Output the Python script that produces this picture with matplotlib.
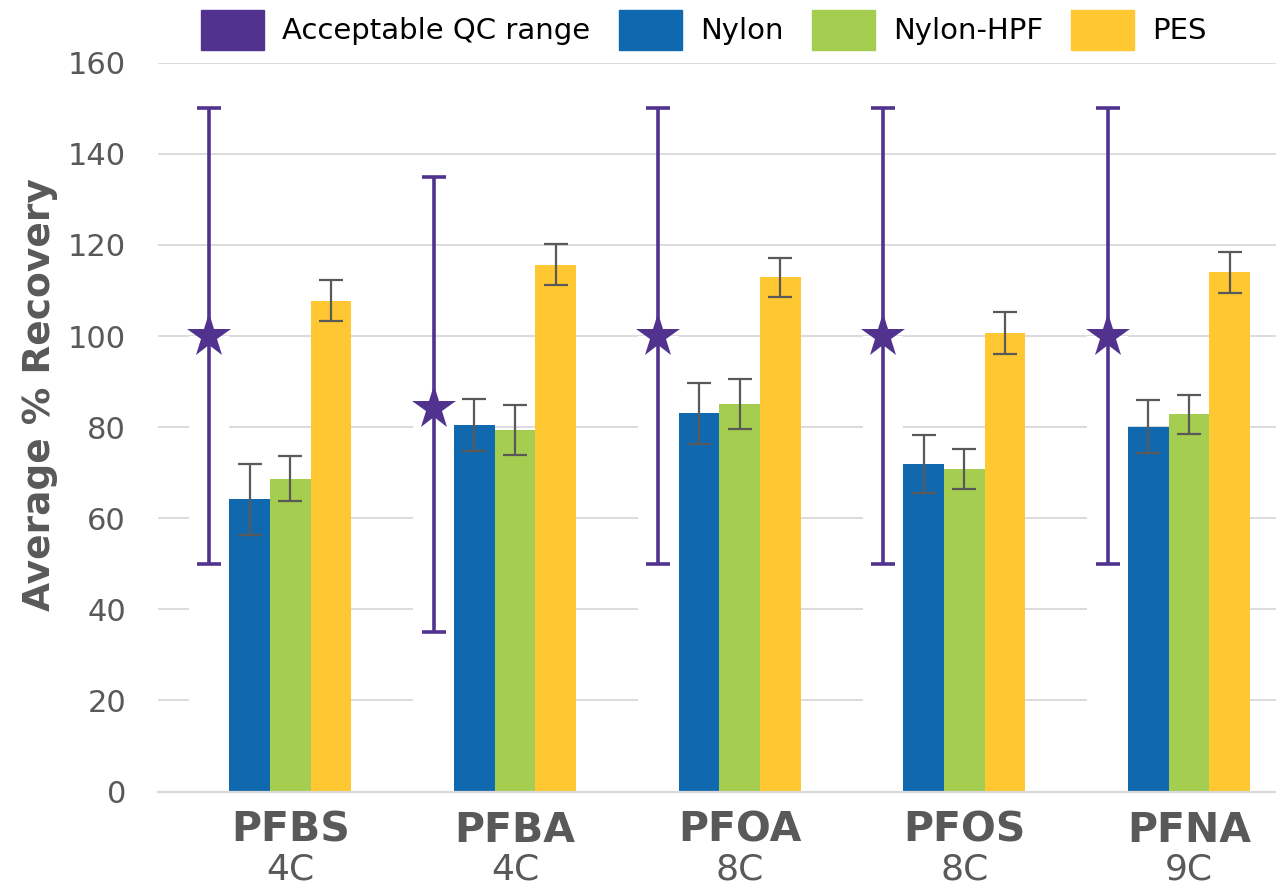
import matplotlib
matplotlib.use("Agg")
import matplotlib.pyplot as plt
import matplotlib.patches as mpatches
import numpy as np

categories = ['PFBS', 'PFBA', 'PFOA', 'PFOS', 'PFNA']
carbons = ['4C', '4C', '8C', '8C', '9C']
qc_center = [100, 84.3, 100, 100, 100]
qc_low = [50, 35, 50, 50, 50]
qc_high = [150, 135, 150, 150, 150]
nylon = [64.2, 80.5, 83.0, 71.9, 80.1]
nylon_err = [7.8, 5.7, 6.7, 6.3, 5.8]
hpf = [68.7, 79.3, 85.0, 70.8, 82.8]
hpf_err = [5.0, 5.5, 5.5, 4.4, 4.3]
pes = [107.7, 115.6, 112.9, 100.6, 114.0]
pes_err = [4.5, 4.5, 4.3, 4.6, 4.5]
series_labels = ['Acceptable QC range', 'Nylon', 'Nylon-HPF', 'PES']
yticks = [0, 20, 40, 60, 80, 100, 120, 140, 160]

PURPLE = '#51338F'
BLUE = '#1069AE'
GREEN = '#A5CD50'
YELLOW = '#FFC832'
GRAY = '#595959'
GRID = '#D9D9D9'

plt.rcParams['font.family'] = ['DejaVu Sans']

W, H = 1276, 885
fig = plt.figure(figsize=(W / 100, H / 100), dpi=100)
ax = fig.add_axes([158 / W, 1 - 791.5 / H, 1 - 158 / W, (791.5 - 62.7) / H])

x = np.arange(len(categories))
w = 0.181

# white mask bar behind QC marker (hides gridlines below the target value)
ax.bar(x - 2 * w, qc_center, w, color='white', zorder=1.5)
ax.bar(x - w, nylon, w, color=BLUE, zorder=2)
ax.bar(x, hpf, w, color=GREEN, zorder=2)
ax.bar(x + w, pes, w, color=YELLOW, zorder=2)

ekw = dict(fmt='none', ecolor=GRAY, elinewidth=1.6, capsize=8.5, capthick=1.6, zorder=3)
ax.errorbar(x - w, nylon, yerr=nylon_err, **ekw)
ax.errorbar(x, hpf, yerr=hpf_err, **ekw)
ax.errorbar(x + w, pes, yerr=pes_err, **ekw)

qc_c = np.array(qc_center)
yerr_qc = [qc_c - np.array(qc_low), np.array(qc_high) - qc_c]
ax.errorbar(x - 2 * w, qc_c, yerr=yerr_qc, fmt='none', ecolor=PURPLE,
            elinewidth=2.6, capsize=8.5, capthick=2.6, zorder=3)
ax.plot(x - 2 * w, qc_c, linestyle='none', marker='*', markersize=33,
        color=PURPLE, markeredgewidth=0, zorder=4)

ax.set_ylim(0, 160)
ax.set_xlim((158 - 290.3) / 224.7, (1276 - 290.3) / 224.7)
ax.set_yticks(yticks)
ax.set_yticklabels([str(t) for t in yticks])
ax.tick_params(axis='y', length=0, labelsize=22, labelcolor=GRAY, pad=23)
ax.set_xticks([])
ax.yaxis.grid(True, color=GRID, linewidth=1.3)
ax.set_axisbelow(True)
for s in ['top', 'right', 'left']:
    ax.spines[s].set_visible(False)
ax.spines['bottom'].set_color(GRID)
ax.spines['bottom'].set_linewidth(1.6)

for i, (c, cc) in enumerate(zip(categories, carbons)):
    ax.annotate(c, xy=(x[i], 0), xycoords=('data', 'axes fraction'),
                xytext=(0, -50), textcoords='offset pixels', ha='center',
                va='baseline', fontsize=29.5, fontweight='bold', color=GRAY,
                annotation_clip=False)
    ax.annotate(cc, xy=(x[i], 0), xycoords=('data', 'axes fraction'),
                xytext=(0, -88), textcoords='offset pixels', ha='center',
                va='baseline', fontsize=26, color=GRAY, annotation_clip=False)

fig.text(40 / W, 1 - 395 / H, 'Average % Recovery', rotation=90, ha='center',
         va='center', fontsize=27, fontweight='bold', color=GRAY)

handles = [mpatches.Patch(color=c) for c in [PURPLE, BLUE, GREEN, YELLOW]]
fig.legend(handles, series_labels, loc='center', bbox_to_anchor=(704 / W, 1 - 30 / H),
           ncol=4, frameon=False, fontsize=21, handlelength=2.17, handleheight=1.69,
           handletextpad=0.62, columnspacing=0.96, labelcolor='black')

fig.savefig('out.png', dpi=100)
